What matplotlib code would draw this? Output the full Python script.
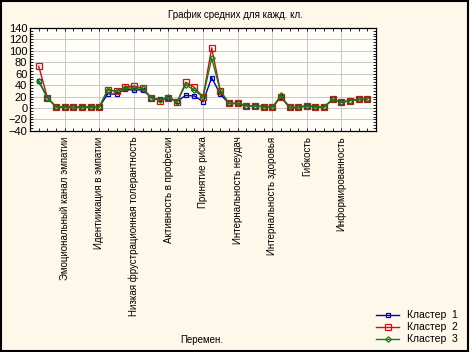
import numpy as np
import matplotlib
matplotlib.use("Agg")
import matplotlib.pyplot as plt
from matplotlib.ticker import MultipleLocator, FixedLocator

plt.rcParams['font.family'] = ['Liberation Sans', 'DejaVu Sans']

# values, 39 variables
cl1 = [47, 18, 2, 2, 1, 2, 2, 2, 25, 24, 33, 31, 32, 18, 15, 18, 12, 22, 21, 11,
       53, 24, 8, 8, 4, 4, 2, 1, 20, 1, 1, 4, 2, 2, 15, 10, 13, 15, 15]
cl2 = [73, 18, 2, 2, 1, 2, 2, 2, 32, 29, 37, 38, 35, 18, 13, 18, 10, 45, 36, 19,
       105, 30, 8, 8, 4, 4, 2, 1, 19, 1, 1, 4, 2, 2, 15, 10, 13, 15, 15]
cl3 = [47, 18, 2, 2, 1, 2, 2, 2, 32, 29, 35, 35, 35, 18, 14, 19, 11, 41, 31, 19,
       87, 30, 8, 8, 4, 4, 2, 1, 22, 1, 1, 4, 2, 2, 15, 10, 13, 15, 15]

tick_pos = [4, 8, 12, 16, 20, 24, 28, 32, 36]
tick_labels = ["Эмоциональный канал эмпатии", "Идентиикация в эмпатии",
               "Низкая фрустрационная толерантность", "Активность в професии",
               "Принятие риска", "Интернальность неудач", "Интернальность здоровья",
               "Гибкость", "Информированность"]

bg = '#fdf8ea'
fig = plt.figure(figsize=(4.7, 3.52), dpi=100, facecolor=bg)
fig.patches.append(plt.Rectangle((0.002, 0.003), 0.994, 0.994, transform=fig.transFigure,
                                 fill=False, edgecolor='black', linewidth=1.5))
ax = fig.add_axes([0.064, 0.628, 0.736, 0.293])
ax.set_facecolor('#fffef9')

x = np.arange(1, len(cl1) + 1)
ax.plot(x, cl1, color='#0000c0', lw=1, marker='s', ms=3.5, mfc='none', mew=0.9, label='Кластер  1')
ax.plot(x, cl2, color='#d01010', lw=1, marker='s', ms=4.5, mfc='none', mew=0.9, label='Кластер  2')
ax.plot(x, cl3, color='#108010', lw=1, marker='D', ms=2.8, mfc='none', mew=0.9, label='Кластер  3')

ax.set_xlim(0, 40)
ax.set_ylim(-40, 140)
ax.yaxis.set_major_locator(MultipleLocator(20))
ax.xaxis.set_major_locator(FixedLocator(tick_pos))
ax.xaxis.set_minor_locator(MultipleLocator(1))
ax.yaxis.set_minor_locator(MultipleLocator(5))
ax.set_xticklabels(tick_labels, rotation=90, ha='center', va='top', fontsize=7)
ax.tick_params(axis='y', labelsize=8, pad=2)
ax.tick_params(which='both', direction='in', top=True, right=True, length=2, width=0.6)
ax.tick_params(axis='x', which='major', pad=4)
ax.grid(True, color='#c8c8c8', lw=0.7)
for s in ax.spines.values():
    s.set_linewidth(0.9)

fig.text(0.5, 0.957, 'График средних для кажд. кл.', ha='center', va='center', fontsize=7)
fig.text(0.43, 0.035, 'Перемен.', ha='center', va='center', fontsize=7)

fig.legend(loc='lower right', bbox_to_anchor=(0.995, -0.005), frameon=False, fontsize=7.5,
           handlelength=2.2, labelspacing=0.2)

fig.savefig('out.png', dpi=100, facecolor=bg)
